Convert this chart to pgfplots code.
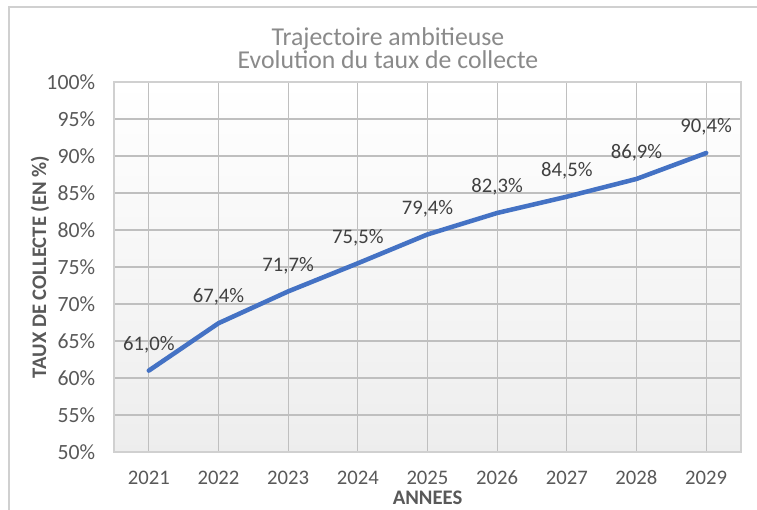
\documentclass[border=0pt]{standalone}
\usepackage{pgfplots}
\pgfplotsset{compat=1.18}
\usepackage{fontspec}
\setmainfont{Carlito}
\definecolor{tick}{HTML}{595959}
\definecolor{dlab}{HTML}{404040}
\definecolor{ttl}{HTML}{8A8A8A}
\definecolor{line}{HTML}{4472C4}
\definecolor{grid}{HTML}{D9D9D9}
\definecolor{frame}{HTML}{D0D0D0}
\begin{document}
\begin{tikzpicture}
\path[use as bounding box, fill=white] (0,0) rectangle (567.75pt,382.5pt);
\draw[frame, line width=0.8pt] (6.75pt,-5pt) -- (6.75pt,377.25pt) -- (580pt,377.25pt);
\begin{axis}[
  at={(85.5pt,43.5pt)}, anchor=south west,
  scale only axis, width=470.25pt, height=277.5pt,
  xmin=2020.5, xmax=2029.5, ymin=50, ymax=100,
  xtick={2021,...,2029}, ytick={50,55,...,100},
  xticklabels={2021,2022,2023,2024,2025,2026,2027,2028,2029},
  yticklabel={\pgfmathprintnumber{\tick}\%},
  /pgf/number format/assume math mode=true,
  major tick length=0pt,
  grid=major, major grid style={grid, line width=0.8pt},
  axis line style={frame, line width=0.8pt},
  axis background/.style={top color=white, bottom color=black!7},
  tick label style={font=\fontsize{15.5}{18}\selectfont, text=tick},
  y tick label style={anchor=east, inner sep=0pt, xshift=-14pt, font=\fontsize{16.3}{18}\selectfont},
  x tick label style={anchor=center, inner sep=0pt, yshift=-19.5pt},
  xlabel={\textbf{ANNEES}},
  xlabel style={at={(axis description cs:0.5,-0.124)}, anchor=center, font=\fontsize{15.5}{18}\selectfont, text=tick},
  ylabel={\textbf{TAUX DE COLLECTE (EN \%)}},
  ylabel style={at={(axis description cs:-0.118,0.5)}, anchor=center, rotate=0, font=\fontsize{15.5}{18}\selectfont, text=tick},
  clip=false,
  nodes near coords={\pgfmathprintnumber[fixed, fixed zerofill, precision=1, use comma]{\pgfplotspointmeta}\%},
  nodes near coords style={font=\fontsize{15.5}{18}\selectfont, text=dlab, anchor=center, yshift=19.5pt},
]
\node[font=\fontsize{19.3}{17.5}\selectfont, text=ttl, align=center] at (axis description cs:0.437,1.091) {Trajectoire ambitieuse\\Evolution du taux de collecte};
\addplot[line, line width=3.4pt, line cap=round, line join=round, mark=none] coordinates {
(2021,61.0) (2022,67.4) (2023,71.7) (2024,75.5) (2025,79.4) (2026,82.3) (2027,84.5) (2028,86.9) (2029,90.4)
};
\end{axis}
\end{tikzpicture}
\end{document}
